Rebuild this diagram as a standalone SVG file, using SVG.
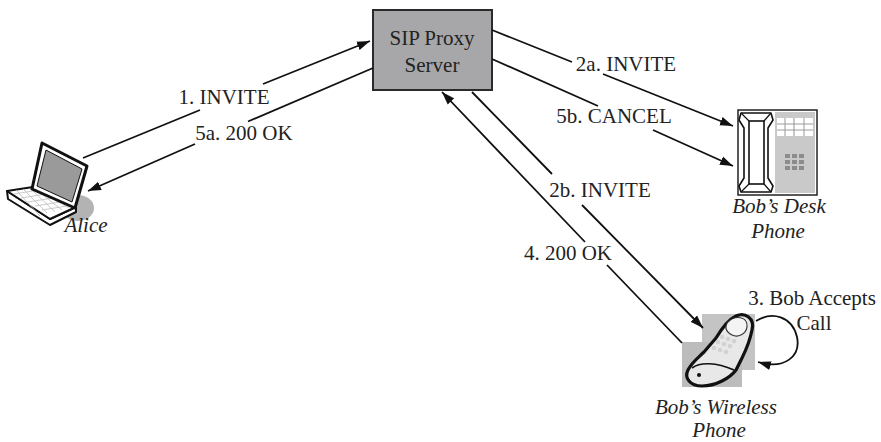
<svg xmlns="http://www.w3.org/2000/svg" width="881" height="442" viewBox="0 0 881 442">
  <defs>
    <marker id="arrow" markerUnits="userSpaceOnUse" markerWidth="14" markerHeight="10" refX="13" refY="5" orient="auto">
      <path d="M0,0.5 L13,5 L0,9.5 z" fill="#111"/>
    </marker>
  </defs>
  <style>
    .lbl { font-family: "Liberation Serif", "Times New Roman", serif; font-size: 21px; fill: #222; text-anchor: middle; }
    .name { font-style: italic; }
    .conn { fill: none; stroke: #111; stroke-width: 1.8; }
  </style>
  <rect width="881" height="442" fill="#fff"/>

  <!-- SIP proxy server -->
  <g id="proxy">
    <rect x="373" y="10" width="119" height="80" fill="#a7a7a9" stroke="#2a2a2a" stroke-width="2"/>
    <text class="lbl" x="432" y="45" font-family="Liberation Serif, serif">SIP Proxy</text>
    <text class="lbl" x="432" y="72" font-family="Liberation Serif, serif">Server</text>
  </g>

  <!-- Alice's laptop -->
  <g id="alice">
    <ellipse cx="78" cy="208" rx="16" ry="13" fill="#b3b3b3"/>
    <path d="M7,191 L8,199 L50,225 L76,212 L76,207 L50,219 Z" fill="#fff" stroke="#111" stroke-width="2" stroke-linejoin="round"/>
    <path d="M7,191 L33,187 L76,207 L50,219 Z" fill="#fff" stroke="#111" stroke-width="2" stroke-linejoin="round"/>
    <g stroke="#bdbdbd" stroke-width="0.8" fill="none">
      <path d="M14,194 L39,190 M21,198 L46,194 M28,202 L53,198 M35,206 L60,202 M42,210 L67,206"/>
      <path d="M16,190 L40,216 M23,189 L47,213 M31,189 L55,212 M39,192 L62,210 M48,196 L69,208"/>
    </g>
    <path d="M42,143 L87,166 L75,208 L32,189 Z" fill="#fff" stroke="#111" stroke-width="3" stroke-linejoin="round"/>
    <path d="M46,150 L82,169 L72,202 L37,186 Z" fill="#9a9a9a" stroke="#111" stroke-width="1"/>
    <text class="lbl name" x="86" y="232" font-family="Liberation Serif, serif">Alice</text>
  </g>

  <!-- Bob's desk phone -->
  <g id="desk-phone">
    <rect x="738" y="110" width="79" height="85" fill="#fff" stroke="#222" stroke-width="1.5"/>
    <rect x="775" y="112" width="40" height="81" fill="#c9c9c9"/>
    <g fill="#fff">
      <rect x="777" y="118" width="16" height="18"/>
      <rect x="795" y="118" width="18" height="18"/>
    </g>
    <g stroke="#9a9a9a" stroke-width="1">
      <line x1="777" y1="124" x2="813" y2="124"/>
      <line x1="777" y1="130" x2="813" y2="130"/>
      <line x1="785" y1="118" x2="785" y2="136"/>
      <line x1="804" y1="118" x2="804" y2="136"/>
    </g>
    <g fill="#8c8c8c">
      <rect x="785" y="154" width="5" height="4"/><rect x="792" y="154" width="5" height="4"/><rect x="799" y="154" width="5" height="4"/>
      <rect x="785" y="160" width="5" height="4"/><rect x="792" y="160" width="5" height="4"/><rect x="799" y="160" width="5" height="4"/>
      <rect x="785" y="166" width="5" height="4"/><rect x="792" y="166" width="5" height="4"/><rect x="799" y="166" width="5" height="4"/>
    </g>
    <path d="M741,113 L771,113 L773,120 L768,128 L768,178 L773,186 L771,192 L741,192 L739,186 L744,178 L744,128 L739,120 Z" fill="#fff" stroke="#111" stroke-width="1.6" stroke-linejoin="round"/>
    <rect x="749" y="121" width="15" height="63" fill="#fff" stroke="#111" stroke-width="1.6"/>
    <path d="M741,113 L749,121 M771,113 L764,121 M741,192 L749,184 M771,192 L764,184" stroke="#111" stroke-width="1.2"/>
    <text class="lbl name" x="779" y="213" font-family="Liberation Serif, serif">Bob’s Desk</text>
    <text class="lbl name" x="778" y="238" font-family="Liberation Serif, serif">Phone</text>
  </g>

  <!-- Bob's wireless phone -->
  <g id="wireless-phone">
    <rect x="702" y="314" width="53" height="56" fill="#c4c4c4"/>
    <rect x="682" y="342" width="60" height="45" fill="#bcbcbc"/>
    <path d="M688,370 C684,378 690,386 702,386 C716,386 730,378 736,370 L742,358 C746,350 750,340 752,330 C755,318 745,312 736,316 C728,320 722,328 716,338 L704,352 C698,358 692,362 688,370 Z" fill="#e8e8e8" stroke="#111" stroke-width="3.2" stroke-linejoin="round"/>
    <path d="M728,322 C735,315 748,316 747,327 C746,334 738,338 732,335 C726,332 724,327 728,322 Z" fill="#f4f4f4" stroke="#333" stroke-width="1.2"/>
    <g fill="#d2d2d2">
      <circle cx="718" cy="342" r="2.3"/><circle cx="724" cy="344" r="2.3"/><circle cx="730" cy="346" r="2.3"/>
      <circle cx="714" cy="348" r="2.3"/><circle cx="720" cy="350" r="2.3"/><circle cx="726" cy="352" r="2.3"/>
      <circle cx="722" cy="337" r="2.3"/><circle cx="728" cy="339" r="2.3"/><circle cx="734" cy="341" r="2.3"/>
    </g>
    <path d="M692,368 C700,362 716,362 734,370" fill="none" stroke="#111" stroke-width="1.6"/>
    <circle cx="699" cy="375" r="2" fill="#111"/>
    <text class="lbl name" x="716" y="414" font-family="Liberation Serif, serif">Bob’s Wireless</text>
    <text class="lbl name" x="719" y="437" font-family="Liberation Serif, serif">Phone</text>
  </g>

  <!-- message connectors, broken where their labels sit -->
  <g id="connectors" class="conn" marker-end="url(#arrow)">
    <path d="M83,158 L200,110 M263,84 L370,41"/>
    <path d="M373,68 L248,121.5 M195,144 L88,191"/>
    <path d="M492,30 L572,62 M603,74 L733,126"/>
    <path d="M492,59 L598,106 M653,130 L733,166"/>
    <path d="M472,92 L552,174 M582,205 L703,328"/>
    <path d="M682,343 L607,265 M585,242 L442,92"/>
    <path d="M756,321 C772,311 792,316 797,337 C801,356 785,370 758,362"/>
  </g>

  <!-- message labels -->
  <g id="labels" font-family="Liberation Serif, serif">
    <text class="lbl" x="224" y="104">1. INVITE</text>
    <text class="lbl" x="244" y="140">5a. 200 OK</text>
    <text class="lbl" x="626" y="71">2a. INVITE</text>
    <text class="lbl" x="614" y="123">5b. CANCEL</text>
    <text class="lbl" x="600" y="197">2b. INVITE</text>
    <text class="lbl" x="568" y="260">4. 200 OK</text>
    <text class="lbl" x="812" y="305">3. Bob Accepts</text>
    <text class="lbl" x="814" y="330">Call</text>
  </g>
</svg>
